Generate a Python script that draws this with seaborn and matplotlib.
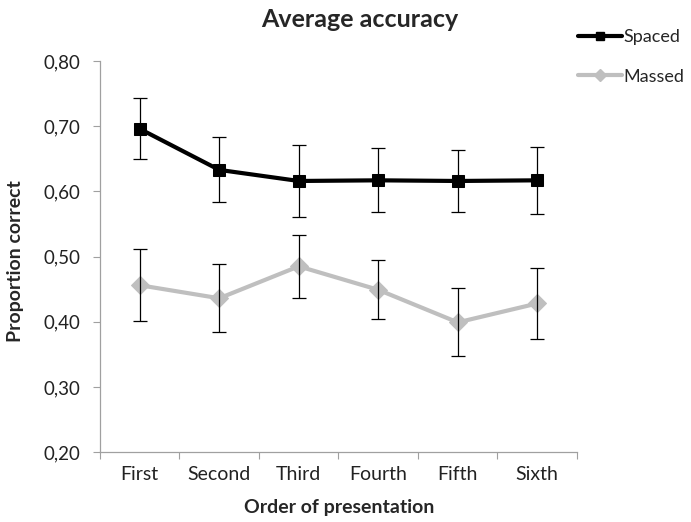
import matplotlib
matplotlib.use("Agg")
import matplotlib.pyplot as plt
from matplotlib.lines import Line2D
from matplotlib.ticker import FixedLocator, FuncFormatter
import numpy as np
import pandas as pd
import seaborn as sns

orders = ["First", "Second", "Third", "Fourth", "Fifth", "Sixth"]
spaced = [0.696, 0.633, 0.616, 0.617, 0.616, 0.617]
spaced_err = [0.047, 0.050, 0.055, 0.049, 0.047, 0.051]
massed = [0.456, 0.436, 0.485, 0.449, 0.399, 0.428]
massed_err = [0.055, 0.052, 0.048, 0.045, 0.052, 0.054]
conditions = ["Spaced", "Massed"]
colors = {"Spaced": "#000000", "Massed": "#BFBFBF"}
markers = {"Spaced": "s", "Massed": "D"}
sizes = {"Spaced": 8, "Massed": 9}

sns.set_theme(style="white")
plt.rcParams["font.family"] = ["Lato", "DejaVu Sans"]

df = pd.DataFrame({
    "pos": list(range(len(orders))) * 2,
    "order": orders * 2,
    "value": spaced + massed,
    "err": spaced_err + massed_err,
    "condition": ["Spaced"] * len(orders) + ["Massed"] * len(orders),
})

fig = plt.figure(figsize=(6.91, 5.22), dpi=100)
ax = fig.add_axes([0.1447, 0.134, 0.6903, 0.749])

for cond in conditions:
    sub = df[df["condition"] == cond]
    sns.lineplot(data=sub, x="pos", y="value", ax=ax, color=colors[cond],
                 linewidth=3, marker=markers[cond], markersize=sizes[cond],
                 markeredgecolor=colors[cond], legend=False, zorder=2)
    ax.errorbar(sub["pos"], sub["value"], yerr=sub["err"], fmt="none",
                ecolor="#000000", elinewidth=0.9, capsize=5, capthick=0.9,
                zorder=3)

ax.set_xlim(-0.5, len(orders) - 0.5)
ax.set_ylim(0.20, 0.80)
ax.set_yticks(np.arange(0.20, 0.801, 0.10))
ax.yaxis.set_major_formatter(FuncFormatter(lambda v, _: f"{v:.2f}".replace(".", ",")))
ax.set_xticks(range(len(orders)))
ax.set_xticklabels(orders)
ax.xaxis.set_minor_locator(FixedLocator(np.arange(-0.5, len(orders), 1.0)))
ax.tick_params(axis="x", which="major", length=0, pad=10, labelsize=14, labelcolor="#222222")
ax.tick_params(axis="x", which="minor", length=5, width=0.8, color="#A0A0A0", direction="out", bottom=True)
ax.tick_params(axis="y", which="major", length=5, width=0.8, color="#A0A0A0", direction="out",
               left=True, pad=9, labelsize=13.5, labelcolor="#222222")

for side in ["top", "right"]:
    ax.spines[side].set_visible(False)
for side in ["left", "bottom"]:
    ax.spines[side].set_color("#A0A0A0")
    ax.spines[side].set_linewidth(0.9)

ax.set_xlabel("Order of presentation", fontsize=14, fontweight="bold")
ax.set_ylabel("Proportion correct", fontsize=14, fontweight="bold")
ax.yaxis.set_label_coords(16 / 691, 0.5, transform=fig.transFigure)
ax.xaxis.set_label_coords(0.4907, 1 - 508 / 522, transform=fig.transFigure)
ax.xaxis.label.set_va("center")
ax.yaxis.label.set_va("center")
fig.text(0.521, 0.962, "Average accuracy", ha="center", va="center",
         fontsize=18, fontweight="bold")

handles = [Line2D([0], [0], color=colors[c], linewidth=3, marker=markers[c],
                  markersize=6, markeredgecolor=colors[c]) for c in conditions]
fig.legend(handles, conditions, loc="upper left", bbox_to_anchor=(0.8264, 0.958),
           frameon=False, fontsize=13, handlelength=2.4, handletextpad=0.1,
           labelspacing=1.3, borderaxespad=0)

fig.savefig("out.png", dpi=100)
